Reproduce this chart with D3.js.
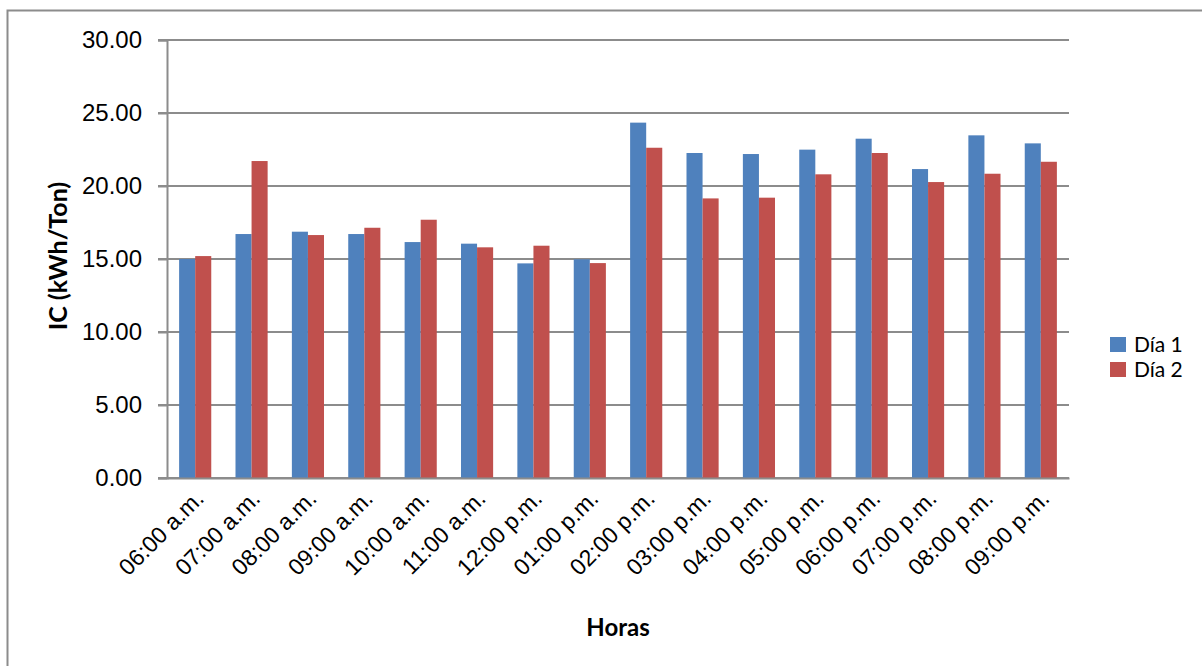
<!DOCTYPE html>
<html>
<head>
<meta charset="utf-8">
<script src="https://cdn.jsdelivr.net/npm/d3@7"></script>
<style>
  html, body { margin: 0; padding: 0; background: #fff; }
  svg { display: block; font-family: Lato, "Open Sans", sans-serif; }
</style>
</head>
<body>
<div id="chart"></div>
<script>
// Chart data
const horas = ['06:00 a.m.', '07:00 a.m.', '08:00 a.m.', '09:00 a.m.', '10:00 a.m.', '11:00 a.m.',
    '12:00 p.m.', '01:00 p.m.', '02:00 p.m.', '03:00 p.m.', '04:00 p.m.', '05:00 p.m.',
    '06:00 p.m.', '07:00 p.m.', '08:00 p.m.', '09:00 p.m.'];
const dia1 = [15.00, 16.71, 16.87, 16.71, 16.16, 16.05, 14.70, 14.98,
    24.34, 22.26, 22.19, 22.49, 23.24, 21.16, 23.47, 22.92];
const dia2 = [15.20, 21.71, 16.64, 17.14, 17.69, 15.80, 15.91, 14.72,
    22.62, 19.15, 19.20, 20.80, 22.26, 20.27, 20.84, 21.66];
const seriesNames = ['Día 1', 'Día 2'];
const seriesColors = ['#4F81BD', '#C0504D'];
const yTicks = [0, 5, 10, 15, 20, 25, 30];

const W = 1202, H = 666;
const plot = { left: 167, right: 1069, top: 40, bottom: 478 };

const svg = d3.select('#chart').append('svg')
    .attr('width', W)
    .attr('height', H);

// outer chart border (runs off the right and bottom edge)
svg.append('rect')
    .attr('x', 7.5).attr('y', 10.5)
    .attr('width', W).attr('height', H)
    .attr('fill', 'none')
    .attr('stroke', '#8c8c8c')
    .attr('stroke-width', 2);

const x0 = d3.scaleBand()
    .domain(horas)
    .range([plot.left, plot.right])
    .paddingInner(0.43)
    .paddingOuter(0.215);

const x1 = d3.scaleBand()
    .domain(seriesNames)
    .range([0, x0.bandwidth()]);

const y = d3.scaleLinear()
    .domain([0, 30])
    .range([plot.bottom, plot.top]);

// gridlines
svg.append('g')
    .selectAll('line')
    .data(yTicks)
    .join('line')
    .attr('x1', plot.left - 9)
    .attr('x2', plot.right)
    .attr('y1', d => y(d))
    .attr('y2', d => y(d))
    .attr('stroke', '#8c8c8c')
    .attr('stroke-width', 2);

// y axis
const yAxis = svg.append('g')
    .attr('transform', `translate(${plot.left},0)`)
    .call(d3.axisLeft(y).tickValues(yTicks).tickFormat(d3.format('.2f')).tickSize(9).tickPadding(16));
yAxis.select('.domain').attr('stroke', '#8c8c8c').attr('stroke-width', 2);
yAxis.selectAll('.tick line').attr('stroke', '#8c8c8c').attr('stroke-width', 2);
yAxis.selectAll('text')
    .style('font-size', '24px')
    .style('fill', '#000');

// bars
const rows = horas.map((h, i) => ({ hora: h, values: [dia1[i], dia2[i]] }));
svg.append('g')
    .selectAll('g')
    .data(rows)
    .join('g')
    .attr('transform', d => `translate(${x0(d.hora)},0)`)
    .selectAll('rect')
    .data(d => d.values.map((v, k) => ({ key: seriesNames[k], value: v, color: seriesColors[k] })))
    .join('rect')
    .attr('x', d => x1(d.key))
    .attr('width', x1.bandwidth())
    .attr('y', d => y(d.value))
    .attr('height', d => y(0) - y(d.value))
    .attr('fill', d => d.color);

// x axis
const xAxis = svg.append('g')
    .attr('transform', `translate(0,${plot.bottom})`)
    .call(d3.axisBottom(x0).tickSize(0).tickPadding(0));
xAxis.select('.domain').attr('stroke', '#8c8c8c').attr('stroke-width', 2);
xAxis.selectAll('text')
    .attr('text-anchor', 'end')
    .attr('dy', 0)
    .attr('transform', `translate(10,22) rotate(-45)`)
    .style('font-size', '23px')
    .style('fill', '#000');

// axis titles
svg.append('text')
    .attr('transform', `translate(67,256) rotate(-90)`)
    .attr('text-anchor', 'middle')
    .style('font-size', '25px')
    .style('font-weight', 'bold')
    .text('IC (kWh/Ton)');

svg.append('text')
    .attr('x', (plot.left + plot.right) / 2)
    .attr('y', 636)
    .attr('text-anchor', 'middle')
    .style('font-size', '24px')
    .style('font-weight', 'bold')
    .text('Horas');

// legend
const legend = svg.append('g')
    .attr('transform', 'translate(1110,337)');
seriesNames.forEach((name, i) => {
    const item = legend.append('g').attr('transform', `translate(0,${i * 25})`);
    item.append('rect')
        .attr('width', 16).attr('height', 15)
        .attr('fill', seriesColors[i]);
    item.append('text')
        .attr('x', 24).attr('y', 15)
        .style('font-size', '21px')
        .text(name);
});
</script>
</body>
</html>
